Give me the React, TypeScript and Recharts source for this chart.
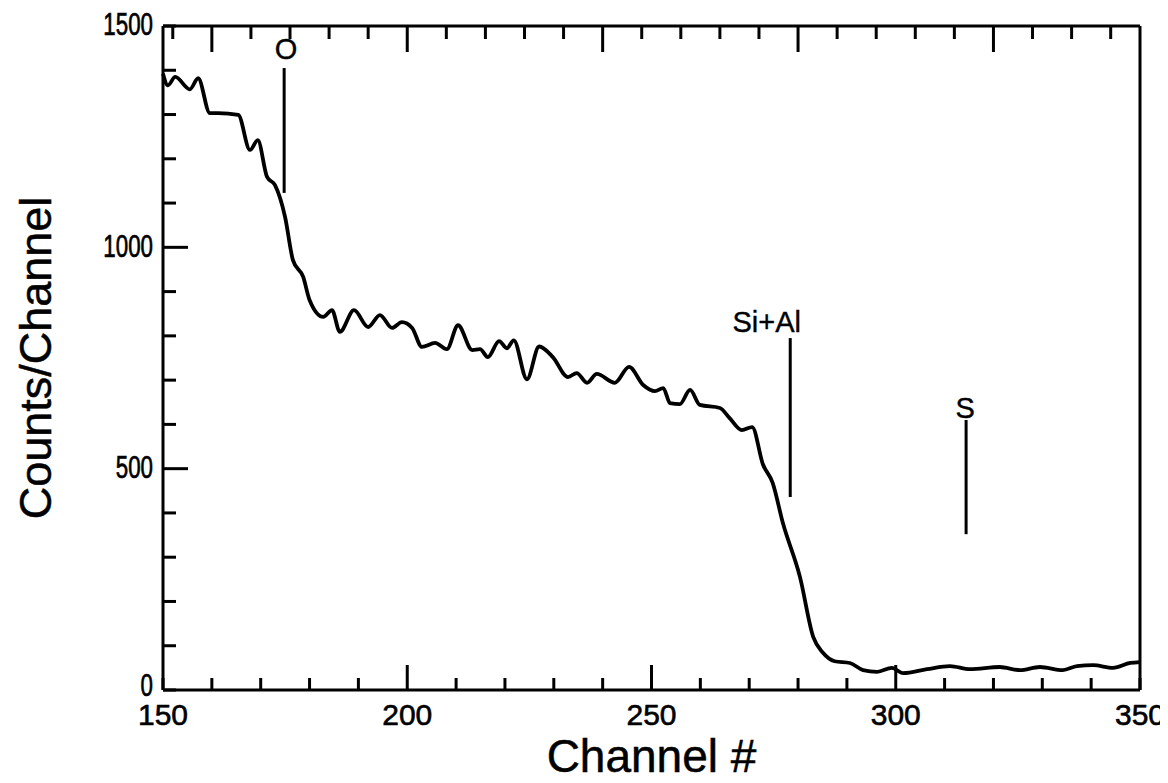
import React from 'react';
import { LineChart, Line, XAxis, YAxis, ReferenceLine, ReferenceDot } from 'recharts';

const channels = [
  150, 151, 152.5, 155.5, 157.2, 159.6, 161.3, 165.4, 167.8, 169.4, 171.3, 172.9, 175, 176.6, 178.7, 180,
  182.8, 184.6, 186.2, 189.1, 192, 194.4, 196.9, 198.9, 201, 203, 205.7, 208.1, 210.4, 213.3, 214.9, 216.5,
  218.8, 220.4, 221.8, 224.5, 227, 229.8, 232.9, 234.7, 236.8, 238.8, 242.5, 245.4, 248.3, 250.7, 252.4, 253.8,
  255.8, 257.9, 259.9, 264, 266, 268.5, 270.6, 272.8, 274.8, 276.9, 280.4, 283.1, 285.1, 287.5, 290.6, 293.3,
  296.2, 299.2, 301.5, 306.4, 311.1, 315.2, 321.3, 325.4, 329.5, 334.2, 337.1, 340.4, 344.5, 348, 350,
];
const counts = [
  1392, 1366, 1385, 1357, 1382, 1303, 1303, 1299, 1220, 1242, 1159, 1141, 1068, 971, 933, 881,
  843, 858, 809, 858, 820, 847, 818, 831, 818, 775, 784, 770, 824, 768, 770, 752,
  788, 772, 790, 702, 776, 752, 707, 716, 694, 714, 694, 730, 689, 675, 682, 648,
  646, 678, 644, 637, 614, 587, 594, 510, 468, 377, 255, 120, 84, 65, 61, 45,
  41, 50, 38, 47, 54, 47, 52, 45, 52, 45, 54, 56, 50, 61, 63,
];

const bottomTicks = [150, 160, 170, 180, 190, 200, 210, 220, 230, 240, 250, 260, 270, 280, 290, 300, 310, 320, 330, 340, 350];
const bottomMajor = [200, 250, 300];
const bottomLabels = [150, 200, 250, 300, 350];
const topTicks = [152, 160, 168, 176, 184, 192, 200, 208, 216, 224, 232, 240, 248, 256, 264, 272, 280, 288, 296, 304, 312, 320, 328, 336, 344];
const topMajor = [160, 200, 240, 280, 320];
const yTicks = [0, 100, 200, 300, 400, 500, 600, 700, 800, 900, 1000, 1100, 1200, 1300, 1400, 1500];
const yMajor = [500, 1000];
const yLabels = [0, 500, 1000, 1500];

const annotations = [
  { name: 'O', channel: 174.8, lineFrom: 1123, lineTo: 1405, labelChannel: 175.2, labelCount: 1450 },
  { name: 'Si+Al', channel: 278.4, lineFrom: 436, lineTo: 795, labelChannel: 273.6, labelCount: 833 },
  { name: 'S', channel: 314.4, lineFrom: 352, lineTo: 610, labelChannel: 314.2, labelCount: 637 },
];

const data = channels.map((c, i) => ({ ch: c, counts: counts[i] }));

const FONT = '"Liberation Sans", Arial, Helvetica, sans-serif';
const INK = '#000';

const BottomTick = (props: any) => {
  const { x, y, payload } = props;
  const v = payload.value;
  const len = bottomMajor.includes(v) ? 25 : 12;
  return (
    <g>
      <line x1={x} x2={x} y1={y} y2={y - len} stroke={INK} strokeWidth={3} />
      {bottomLabels.includes(v) && (
        <text x={x} y={y + 35} textAnchor="middle" fontSize={30} fontFamily={FONT} fill={INK} stroke={INK} strokeWidth={0.6}>
          {v}
        </text>
      )}
    </g>
  );
};

const TopTick = (props: any) => {
  const { x, y, payload } = props;
  const len = topMajor.includes(payload.value) ? 26 : 13;
  return <line x1={x} x2={x} y1={y} y2={y + len} stroke={INK} strokeWidth={3} />;
};

const LeftTick = (props: any) => {
  const { x, y, payload } = props;
  const v = payload.value;
  const len = yMajor.includes(v) ? 25 : 13;
  return (
    <g>
      <line x1={x} x2={x + len} y1={y} y2={y} stroke={INK} strokeWidth={3} />
      {yLabels.includes(v) && (
        <text
          transform={`translate(${x - 10},${y}) scale(0.72,1)`}
          x={0}
          y={0}
          dy={v === 0 ? '0.2em' : '0.3em'}
          textAnchor="end"
          fontSize={31}
          fontFamily={FONT}
          fill={INK}
          stroke={INK}
          strokeWidth={0.7}
        >
          {v}
        </text>
      )}
    </g>
  );
};

const RightTick = (props: any) => {
  const { x, y, payload } = props;
  const len = yMajor.includes(payload.value) ? 26 : 14;
  return <line x1={x} x2={x - len} y1={y} y2={y} stroke={INK} strokeWidth={3} />;
};

const XTitle = (props: any) => {
  const vb = props.viewBox || {};
  const cx = vb.x + vb.width / 2;
  return (
    <text x={cx} y={vb.y + 82} textAnchor="middle" fontSize={46} fontFamily={FONT} fill={INK} stroke={INK} strokeWidth={0.5}>
      Channel #
    </text>
  );
};

const YTitle = (props: any) => {
  const vb = props.viewBox || {};
  const cx = vb.x + 27;
  const cy = vb.y + vb.height / 2;
  return (
    <text
      x={cx}
      y={cy}
      transform={`rotate(-90 ${cx} ${cy})`}
      textAnchor="middle"
      dominantBaseline="central"
      fontSize={45}
      fontFamily={FONT}
      fill={INK}
      stroke={INK}
      strokeWidth={0.5}
    >
      Counts/Channel
    </text>
  );
};

const AnnoLabel = (text: string) => (props: any) => {
  const vb = props.viewBox || {};
  const cx = vb.x + (vb.width || 0) / 2;
  const cy = vb.y + (vb.height || 0) / 2;
  return (
    <text x={cx} y={cy} dy="0.36em" textAnchor="middle" fontSize={29} fontFamily={FONT} fill={INK} stroke={INK} strokeWidth={0.4}>
      {text}
    </text>
  );
};

export default function App() {
  return (
    <div style={{ width: 1160, height: 767, background: '#fff', overflow: 'visible' }}>
      <style>{`html, body { overflow: hidden; } .recharts-surface { overflow: visible; }`}</style>
      <LineChart width={1160} height={767} data={data} margin={{ top: 0, right: 0, bottom: 0, left: 0 }}>
        <XAxis
          dataKey="ch"
          type="number"
          domain={[150, 350]}
          ticks={bottomTicks}
          interval={0}
          height={85}
          tickSize={0}
          tickMargin={0}
          tickLine={false}
          axisLine={{ stroke: INK, strokeWidth: 3 }}
          tick={<BottomTick />}
          label={<XTitle />}
        />
        <XAxis
          xAxisId="top"
          orientation="top"
          dataKey="ch"
          type="number"
          domain={[150, 350]}
          ticks={topTicks}
          interval={0}
          height={18}
          tickSize={0}
          tickMargin={0}
          tickLine={false}
          axisLine={{ stroke: INK, strokeWidth: 3 }}
          tick={<TopTick />}
        />
        <YAxis
          type="number"
          domain={[0, 1500]}
          ticks={yTicks}
          interval={0}
          width={155}
          tickSize={0}
          tickMargin={0}
          tickLine={false}
          axisLine={{ stroke: INK, strokeWidth: 3 }}
          tick={<LeftTick />}
          label={<YTitle />}
        />
        <YAxis
          yAxisId="right"
          orientation="right"
          type="number"
          domain={[0, 1500]}
          ticks={yTicks}
          interval={0}
          width={28}
          tickSize={0}
          tickMargin={0}
          tickLine={false}
          axisLine={{ stroke: INK, strokeWidth: 3 }}
          tick={<RightTick />}
        />
        {annotations.map((a) => (
          <ReferenceLine
            key={a.name + '-line'}
            segment={[
              { x: a.channel, y: a.lineFrom },
              { x: a.channel, y: a.lineTo },
            ]}
            stroke={INK}
            strokeWidth={3}
          />
        ))}
        {annotations.map((a) => (
          <ReferenceDot
            key={a.name + '-label'}
            x={a.labelChannel}
            y={a.labelCount}
            r={0}
            fill="none"
            stroke="none"
            label={AnnoLabel(a.name)}
          />
        ))}
        <Line
          type="monotone"
          dataKey="counts"
          stroke={INK}
          strokeWidth={3.8}
          dot={false}
          isAnimationActive={false}
        />
      </LineChart>
    </div>
  );
}
